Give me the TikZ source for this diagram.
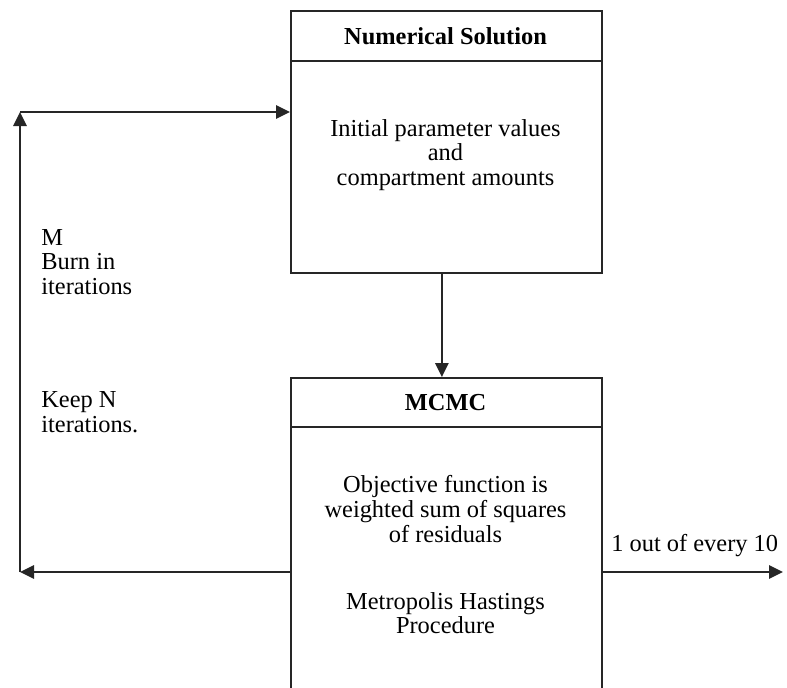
\documentclass[tikz,border=0pt]{standalone}
\usepackage{fontspec}
\setmainfont{Liberation Serif}
\usetikzlibrary{arrows.meta}

\begin{document}
\begin{tikzpicture}[x=0.75pt, y=-0.75pt, line width=1.4pt, draw=black!85,
  >={Triangle[length=10.5pt,width=10pt]},
  box/.style={draw, anchor=north west, inner sep=0pt, minimum width=233.25pt},
  txt/.style={align=center, font=\fontsize{18.3}{18.4}\selectfont},
  side/.style={align=left, anchor=west, font=\fontsize{18.3}{18.4}\selectfont}]
\useasboundingbox (0,0) rectangle (787,687);
\pgfmathsetmacro\hx{445.5}
% boxes
\node[box, minimum height=196.5pt] (num) at (290,10) {};
\node[box, minimum height=243pt] (mcmc) at (290,377) {};
\draw (290,61) -- (601,61);
\draw (290,427) -- (601,427);
\node[txt, font=\fontsize{18.3}{18.4}\selectfont\bfseries] (numtitle) at (\hx,36) {Numerical Solution};
\node[txt] (init) at (\hx,155) {Initial parameter values\\and\\compartment amounts};
\node[txt, font=\fontsize{18.3}{18.4}\selectfont\bfseries] (mcmctitle) at (\hx,403) {MCMC};
\node[txt] (obj) at (\hx,509) {Objective function is\\weighted sum of squares\\of residuals};
\node[txt] (mh) at (\hx,613) {Metropolis Hastings\\Procedure};
% loop labels
\node[side] (burn) at (36,262) {M\\Burn in\\iterations};
\node[side] (keep) at (36,412) {Keep N\\iterations.};
% connectors
\coordinate (loopbot) at (20,572);
\coordinate (looptop) at (20,112);
\coordinate (out) at (783,572);
\draw[->] ([xshift=-3.4pt]num.south) -- ([xshift=-3.4pt]mcmc.north);
\draw[->] (mcmc.west |- loopbot) -- (loopbot);
\draw[->] (loopbot) -- (looptop);
\draw[->] (looptop) -- (num.west |- looptop);
\draw[->] (mcmc.east |- out) -- (out);
\node[side] (every) at (606,546) {1 out of every 10};
\end{tikzpicture}
\end{document}
